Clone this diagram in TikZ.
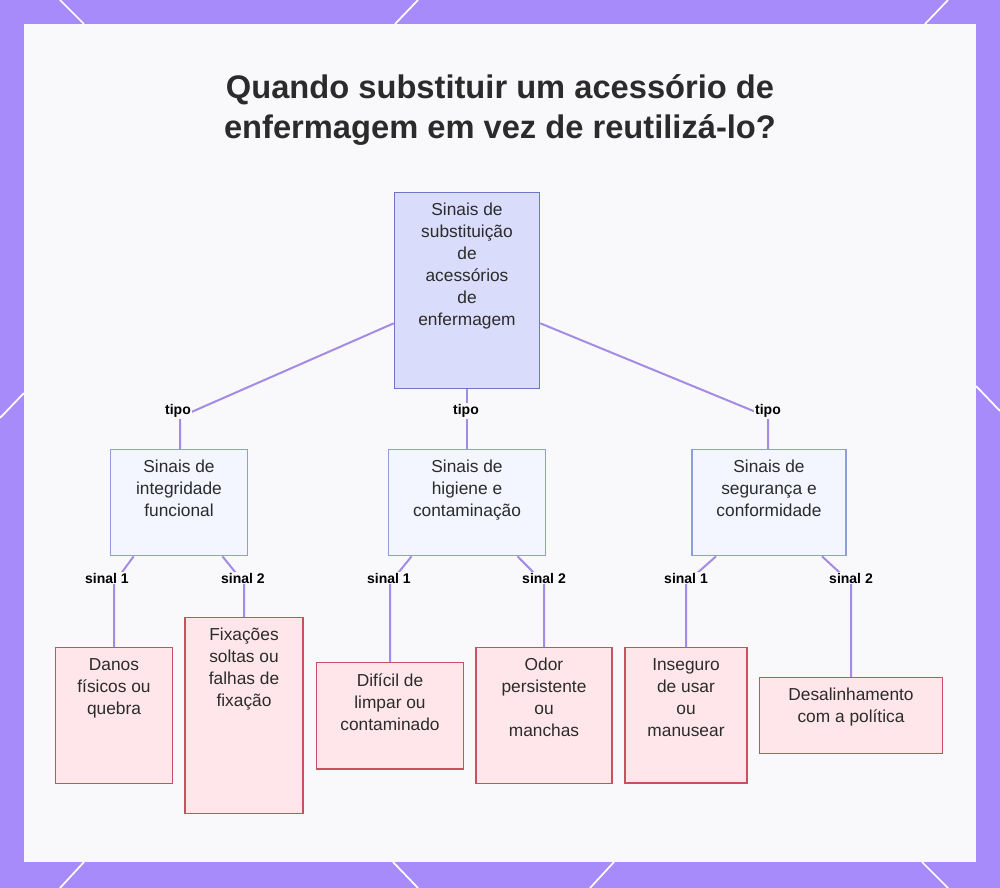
\documentclass[tikz,border=0pt]{standalone}
\usepackage{fontspec}
\setmainfont{Liberation Sans}
\usetikzlibrary{arrows}
\usetikzlibrary{shapes}
\definecolor{frameColor}{HTML}{A78BFA}
\definecolor{panelColor}{HTML}{F9F9FC}
\definecolor{rootFill}{HTML}{DADCFB}
\definecolor{rootDraw}{HTML}{6C77C8}
\definecolor{typeFill}{HTML}{F3F5FF}
\definecolor{typeDraw}{HTML}{8E9FD8}
\definecolor{signFill}{HTML}{FFE6EA}
\definecolor{signDraw}{HTML}{C9505E}
\definecolor{edgeColor}{HTML}{A48BE3}
\definecolor{inkColor}{HTML}{2B2B2B}

\begin{document}
\begin{tikzpicture}[x = 0.75pt, y = -0.75pt]
\tikzstyle{boxStyle}=[shape = rectangle, anchor = north, align = center, inner xsep = 2pt, inner ysep = 8pt, line width = 1.1pt, text = inkColor, font = \fontsize{13}{16.5}\selectfont]
\tikzstyle{rootStyle}=[boxStyle, fill = rootFill, draw = rootDraw, minimum width = 108.75pt, text depth = 39pt]
\tikzstyle{typeStyle}=[boxStyle, fill = typeFill, draw = typeDraw, text depth = 21pt]
\tikzstyle{signStyle}=[boxStyle, fill = signFill, draw = signDraw]
\tikzstyle{EdgeStyle}=[draw = edgeColor, line width = 1.5pt]
\tikzstyle{labelStyle}=[fill = panelColor, inner sep = 1pt, text = black, font = \fontsize{10.5}{12}\selectfont\bfseries]
\tikzstyle{cornerLine}=[draw = white, line width = 1.3pt]
\useasboundingbox (0,0) rectangle (1000,888);
\fill[frameColor] (0,0) rectangle (1000,888);
\fill[panelColor] (24,24) rectangle (976,862);
\draw[cornerLine] (60,0) -- (84,24);
\draw[cornerLine] (418,0) -- (395,24);
\draw[cornerLine] (948,0) -- (925,24);
\draw[cornerLine] (24,393) -- (0,418);
\draw[cornerLine] (976,386) -- (1000,411);
\draw[cornerLine] (84,862) -- (60,888);
\draw[cornerLine] (393,862) -- (418,888);
\draw[cornerLine] (614,862) -- (590,888);
\draw[cornerLine] (922,862) -- (948,888);
\node[align = center, font = \fontsize{24.5}{30}\selectfont\bfseries, text = inkColor] (title) at (500,110) {Quando substituir um acessório de\\enfermagem em vez de reutilizá-lo?};
\node[rootStyle] (r0) at (467,192) {Sinais de\\substituição\\de\\acessórios\\de\\enfermagem};
\node[typeStyle, minimum width = 102.75pt] (t1) at (179,449) {Sinais de\\integridade\\funcional};
\node[typeStyle, minimum width = 117.75pt] (t2) at (467,449) {Sinais de\\higiene e\\contaminação};
\node[typeStyle, minimum width = 115.5pt] (t3) at (769,449) {Sinais de\\segurança e\\conformidade};
\node[signStyle, minimum width = 87.75pt, text depth = 43.7pt] (s11) at (114,647) {Danos\\físicos ou\\quebra};
\node[signStyle, minimum width = 88.5pt, text depth = 72pt] (s12) at (244,617) {Fixações\\soltas ou\\falhas de\\fixação};
\node[signStyle, minimum width = 110.25pt, text depth = 21pt] (s21) at (390,662) {Difícil de\\limpar ou\\contaminado};
\node[signStyle, minimum width = 102pt, text depth = 27pt] (s22) at (544,647) {Odor\\persistente\\ou\\manchas};
\node[signStyle, minimum width = 91.5pt, text depth = 27pt] (s31) at (686,647) {Inseguro\\de usar\\ou\\manusear};
\node[signStyle, minimum width = 137.25pt, text depth = 15pt] (s32) at (851,677) {Desalinhamento\\com a política};
\coordinate (kt1) at (180,417);
\coordinate (kt3) at (768,417);
\coordinate (k11) at (114,583);
\coordinate (k12) at (244,583);
\coordinate (k21) at (390,583);
\coordinate (k22) at (544,583);
\coordinate (k31) at (686,583);
\coordinate (k32) at (851,583);
\draw[EdgeStyle] (r0.204) -- (kt1) -- (t1.north -| kt1);
\draw[EdgeStyle] (r0.south) -- (t2.north);
\draw[EdgeStyle] (r0.336) -- (kt3) -- (t3.north -| kt3);
\draw[EdgeStyle] ([xshift = -34pt]t1.south) -- (k11) -- (s11.north);
\draw[EdgeStyle] ([xshift = 32.6pt]t1.south) -- (k12) -- (s12.north);
\draw[EdgeStyle] ([xshift = -41.6pt]t2.south) -- (k21) -- (s21.north);
\draw[EdgeStyle] ([xshift = 37.9pt]t2.south) -- (k22) -- (s22.north);
\draw[EdgeStyle] ([xshift = -39.75pt]t3.south) -- (k31) -- (s31.north);
\draw[EdgeStyle] ([xshift = 39.75pt]t3.south) -- (k32) -- (s32.north);
\node[labelStyle] (lt1) at (178,411) {tipo};
\node[labelStyle] (lt2) at (466,411) {tipo};
\node[labelStyle] (lt3) at (768,411) {tipo};
\node[labelStyle] (l11) at (107,578) {sinal 1};
\node[labelStyle] (l12) at (243,578) {sinal 2};
\node[labelStyle] (l21) at (389,578) {sinal 1};
\node[labelStyle] (l22) at (544,578) {sinal 2};
\node[labelStyle] (l31) at (686,578) {sinal 1};
\node[labelStyle] (l32) at (851,578) {sinal 2};
\end{tikzpicture}
\end{document}
